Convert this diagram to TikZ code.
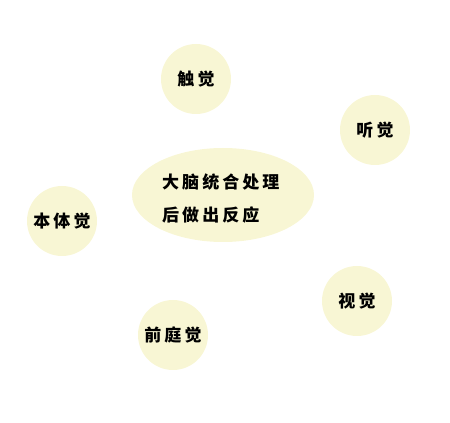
\documentclass[tikz,border=0pt]{standalone}
\usepackage{fontspec}
\newfontfamily\cjk[LetterSpace=18]{Noto Sans CJK SC}
\definecolor{paleyellow}{RGB}{248,246,212}
\tikzset{
  sense/.style={circle, fill=paleyellow, minimum size=70pt, inner sep=0pt, font=\cjk\bfseries\fontsize{17pt}{19pt}\selectfont},
  brainbox/.style={ellipse, fill=paleyellow, minimum width=182pt, minimum height=94pt, inner sep=0pt},
  braintext/.style={anchor=west, inner sep=0pt, font=\cjk\bfseries\fontsize{17pt}{19pt}\selectfont}
}
\usetikzlibrary{shapes.geometric}
\begin{document}
\begin{tikzpicture}[x=1pt,y=1pt]
\useasboundingbox (0,0) rectangle (450,423);
\node[brainbox] (brain) at (223,228) {};
\node[braintext] (line1) at (162,241) {大脑统合处理};
\node[braintext] (line2) at (162,208) {后做出反应};
\node[sense] (touch) at (196,344) {触觉\hspace{-3pt}};
\node[sense] (hear) at (375,293) {听觉\hspace{-3pt}};
\node[sense] (body) at (62,202) {本体觉\hspace{-3pt}};
\node[sense] (vision) at (357,122) {视觉\hspace{-3pt}};
\node[sense] (vest) at (173,88) {前庭觉\hspace{-3pt}};
\end{tikzpicture}
\end{document}
